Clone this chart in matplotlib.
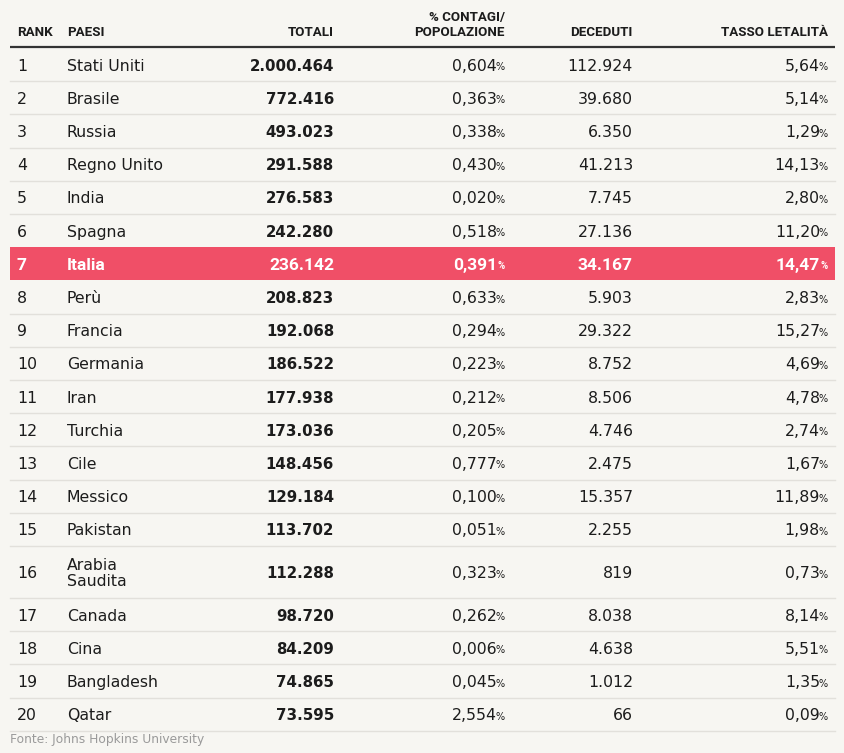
import matplotlib.pyplot as plt
from matplotlib.patches import Rectangle

rank = list(range(1, 21))
paesi = ["Stati Uniti", "Brasile", "Russia", "Regno Unito", "India", "Spagna",
         "Italia", "Perù", "Francia", "Germania", "Iran", "Turchia", "Cile",
         "Messico", "Pakistan", "Arabia\nSaudita", "Canada", "Cina",
         "Bangladesh", "Qatar"]
totali = ["2.000.464", "772.416", "493.023", "291.588", "276.583", "242.280",
          "236.142", "208.823", "192.068", "186.522", "177.938", "173.036",
          "148.456", "129.184", "113.702", "112.288", "98.720", "84.209",
          "74.865", "73.595"]
contagi_pop = ["0,604", "0,363", "0,338", "0,430", "0,020", "0,518", "0,391",
               "0,633", "0,294", "0,223", "0,212", "0,205", "0,777", "0,100",
               "0,051", "0,323", "0,262", "0,006", "0,045", "2,554"]
deceduti = ["112.924", "39.680", "6.350", "41.213", "7.745", "27.136",
            "34.167", "5.903", "29.322", "8.752", "8.506", "4.746", "2.475",
            "15.357", "2.255", "819", "8.038", "4.638", "1.012", "66"]
letalita = ["5,64", "5,14", "1,29", "14,13", "2,80", "11,20", "14,47", "2,83",
            "15,27", "4,69", "4,78", "2,74", "1,67", "11,89", "1,98", "0,73",
            "8,14", "5,51", "1,35", "0,09"]
highlight = "Italia"

BG = "#f7f6f2"
RED = "#f04f67"
DARK = "#1c1c1c"
FONT = ["DejaVu Sans"]
HFONT = ["Roboto", "DejaVu Sans"]

fig = plt.figure(figsize=(8.45, 7.53), dpi=100, facecolor=BG)
ax = fig.add_axes([0, 0, 1, 1])
ax.set_xlim(0, 845)
ax.set_ylim(753, 0)
ax.axis("off")

# header
hy = 32
hkw = dict(fontsize=9.6, fontweight="bold", color=DARK, family=HFONT, va="center")
ax.text(17, hy, "RANK", ha="left", **hkw)
ax.text(67, hy, "PAESI", ha="left", **hkw)
ax.text(334, hy, "TOTALI", ha="right", **hkw)
ax.text(505, hy - 15, "% CONTAGI/", ha="right", **hkw)
ax.text(505, hy, "POPOLAZIONE", ha="right", **hkw)
ax.text(633, hy, "DECEDUTI", ha="right", **hkw)
ax.text(828, hy, "TASSO LETALITÀ", ha="right", **hkw)
ax.plot([10, 835], [47, 47], color="#333333", lw=1.6, solid_capstyle="butt")

top = 48
for i in range(len(rank)):
    h = 52 if "\n" in paesi[i] else 33.2
    cy = top + h / 2 + 1.5
    hl = paesi[i] == highlight
    if hl:
        ax.add_patch(Rectangle((10, top), 825, h, color=RED, lw=0, zorder=0))
        col, w, fam, fs, bfs = "white", "bold", HFONT, 12.5, 12.5
    else:
        col, w, fam, fs, bfs = DARK, "normal", FONT, 11.3, 10.8
    kw = dict(color=col, family=fam, va="center")
    ax.text(17, cy, str(rank[i]), ha="left", fontweight=w, fontsize=fs, **kw)
    ax.text(67, cy, paesi[i], ha="left", fontweight=w, fontsize=fs,
            linespacing=1.15, **kw)
    ax.text(334, cy, totali[i], ha="right", fontweight="bold", fontsize=bfs, **kw)
    ax.text(497, cy, contagi_pop[i], ha="right", fontweight=w, fontsize=fs, **kw)
    ax.text(505, cy + 1, "%", ha="right", fontweight=w, fontsize=7,
            color=col, family=fam, va="center")
    ax.text(633, cy, deceduti[i], ha="right", fontweight=w, fontsize=fs, **kw)
    ax.text(820, cy, letalita[i], ha="right", fontweight=w, fontsize=fs, **kw)
    ax.text(828, cy + 1, "%", ha="right", fontweight=w, fontsize=7,
            color=col, family=fam, va="center")
    top += h
    nxt = paesi[i + 1] if i + 1 < len(paesi) else ""
    if not hl and nxt != highlight:
        ax.plot([10, 835], [top, top], color="#e2e0db", lw=1, zorder=1)

ax.text(10, 740, "Fonte: Johns Hopkins University", ha="left", va="center",
        fontsize=8.8, color="#9a9a9a", family=FONT)

fig.savefig("out.png", dpi=100, facecolor=BG)
